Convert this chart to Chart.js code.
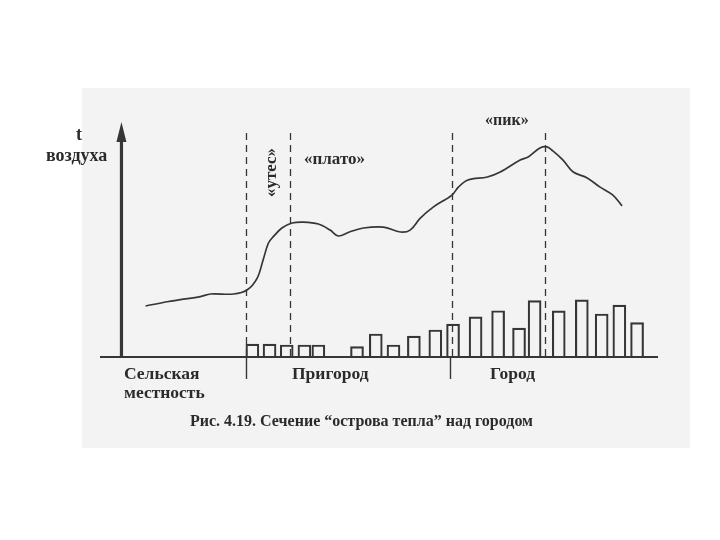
<!DOCTYPE html>
<html>
<head>
<meta charset="utf-8">
<script src="https://cdn.jsdelivr.net/npm/chart.js@4/dist/chart.umd.min.js"></script>
<style>
  html, body { margin:0; padding:0; background:#ffffff; }
  #wrap { position:relative; width:720px; height:540px; overflow:hidden; }
  #panel { position:absolute; left:82px; top:88px; width:608px; height:360px; background:#f3f3f3; }
  canvas { position:absolute; left:0; top:0; }
  .lbl { position:absolute; font-family:"Liberation Serif","DejaVu Serif",serif; font-weight:bold; color:#2b2b2b; white-space:nowrap; line-height:1; }
</style>
</head>
<body>
<div id="wrap">
  <div id="panel"></div>
  <canvas id="c" width="720" height="540"></canvas>
  <div class="lbl" style="left:76px;top:125px;font-size:18px;">t</div>
  <div class="lbl" style="left:46px;top:146px;font-size:18px;">воздуха</div>
  <div class="lbl" style="left:240px;top:164px;font-size:17px;transform:rotate(-90deg);transform-origin:center;width:60px;text-align:center;">«утес»</div>
  <div class="lbl" style="left:304px;top:150px;font-size:17px;">«плато»</div>
  <div class="lbl" style="left:485px;top:112px;font-size:16px;">«пик»</div>
  <div class="lbl" style="left:124px;top:365px;font-size:17.5px;">Сельская</div>
  <div class="lbl" style="left:124px;top:384px;font-size:17.5px;">местность</div>
  <div class="lbl" style="left:292px;top:365px;font-size:17.5px;">Пригород</div>
  <div class="lbl" style="left:490px;top:365px;font-size:17.5px;">Город</div>
  <div class="lbl" style="left:0;width:723px;text-align:center;top:413px;font-size:16px;">Рис. 4.19. Сечение “острова тепла” над городом</div>
</div>
<script>
// Distance along the section (arbitrary units) and air temperature (arbitrary units)
const curveX = [4.5, 8.5, 11.0, 14.7, 16.6, 20.9, 23.4, 25.3, 26.4, 27.4, 28.3, 29.9, 31.8, 33.9, 36.7, 38.9, 40.4, 42.6, 45.1, 48.8, 52.0, 53.8, 55.7, 58.1, 61.6, 62.8, 64.6, 68.2, 70.6, 74.3, 75.8, 78.0, 79.3, 80.4, 82.3, 84.2, 86.8, 89.2, 91.6, 93.3];
const curveT = [21.7, 23.5, 24.4, 25.7, 26.8, 26.8, 28.5, 33.6, 41.3, 48.5, 51.2, 54.9, 57.0, 57.4, 56.6, 54.0, 51.5, 53.3, 54.9, 55.3, 53.2, 54.0, 59.1, 63.8, 68.9, 72.3, 75.3, 76.6, 78.7, 83.8, 85.1, 88.9, 89.4, 87.7, 83.8, 78.7, 76.2, 72.3, 68.9, 64.3];

// Buildings: position and height
const buildX = [24.4, 27.6, 30.8, 34.1, 36.7, 43.9, 47.4, 50.7, 54.5, 58.5, 61.8, 66.0, 70.2, 74.1, 77.0, 81.5, 85.8, 89.5, 92.8, 96.1];
const buildH = [5.5, 5.5, 5.1, 5.1, 5.1, 4.4, 9.8, 5.1, 8.9, 11.5, 14.0, 17.1, 19.7, 12.3, 24.0, 19.6, 24.3, 18.3, 22.1, 14.6];

// Dashed markers (утес start, плато start, город start, пик) and zone borders
const dashedX = [23.3, 31.4, 61.6, 78.9];
const dashedTop = 95.3;
const zoneBorders = [23.3, 61.3];

const curveData = curveX.map((x, i) => ({x: x, y: curveT[i]}));
const buildData = buildX.map((x, i) => ({x: x, y: buildH[i]}));

const ink = '#363636';

const decor = {
  id: 'decor',
  afterDatasetsDraw(chart) {
    const ctx = chart.ctx;
    const xs = chart.scales.x, ys = chart.scales.y;
    const y0 = ys.getPixelForValue(0);
    ctx.save();
    ctx.strokeStyle = ink;
    ctx.lineWidth = 1.3;
    ctx.setLineDash([7, 5]);
    dashedX.forEach(v => {
      const px = Math.round(xs.getPixelForValue(v)) + 0.5;
      ctx.beginPath();
      ctx.moveTo(px, ys.getPixelForValue(dashedTop));
      ctx.lineTo(px, y0);
      ctx.stroke();
    });
    ctx.setLineDash([]);
    ctx.lineWidth = 1.8;
    ctx.beginPath();
    ctx.moveTo(xs.getPixelForValue(xs.min), y0);
    ctx.lineTo(xs.getPixelForValue(xs.max), y0);
    ctx.stroke();
    ctx.lineWidth = 1.4;
    zoneBorders.forEach(v => {
      const px = Math.round(xs.getPixelForValue(v)) + 0.5;
      ctx.beginPath();
      ctx.moveTo(px, y0);
      ctx.lineTo(px, y0 + 22);
      ctx.stroke();
    });
    const ax = xs.getPixelForValue(0);
    const yTop = ys.getPixelForValue(ys.max);
    ctx.lineWidth = 3.2;
    ctx.beginPath();
    ctx.moveTo(ax, y0);
    ctx.lineTo(ax, yTop + 14);
    ctx.stroke();
    ctx.fillStyle = ink;
    ctx.beginPath();
    ctx.moveTo(ax, yTop);
    ctx.lineTo(ax - 5, yTop + 20);
    ctx.lineTo(ax + 5, yTop + 20);
    ctx.closePath();
    ctx.fill();
    ctx.restore();
  }
};

new Chart(document.getElementById('c'), {
  type: 'bar',
  data: {
    datasets: [
      {
        type: 'line',
        data: curveData,
        borderColor: ink,
        borderWidth: 1.7,
        pointRadius: 0,
        tension: 0.35,
        fill: false
      },
      {
        type: 'bar',
        data: buildData,
        backgroundColor: 'rgba(0,0,0,0)',
        borderColor: ink,
        borderWidth: 1.5,
        barThickness: 13
      }
    ]
  },
  options: {
    responsive: false,
    animation: false,
    layout: { padding: { left: 100, right: 62, top: 122, bottom: 183 } },
    plugins: { legend: { display: false }, tooltip: { enabled: false }, title: { display: false } },
    scales: {
      x: { type: 'linear', min: -4, max: 100, offset: false, display: false },
      y: { min: 0, max: 100, display: false }
    }
  },
  plugins: [decor]
});
</script>
</body>
</html>
